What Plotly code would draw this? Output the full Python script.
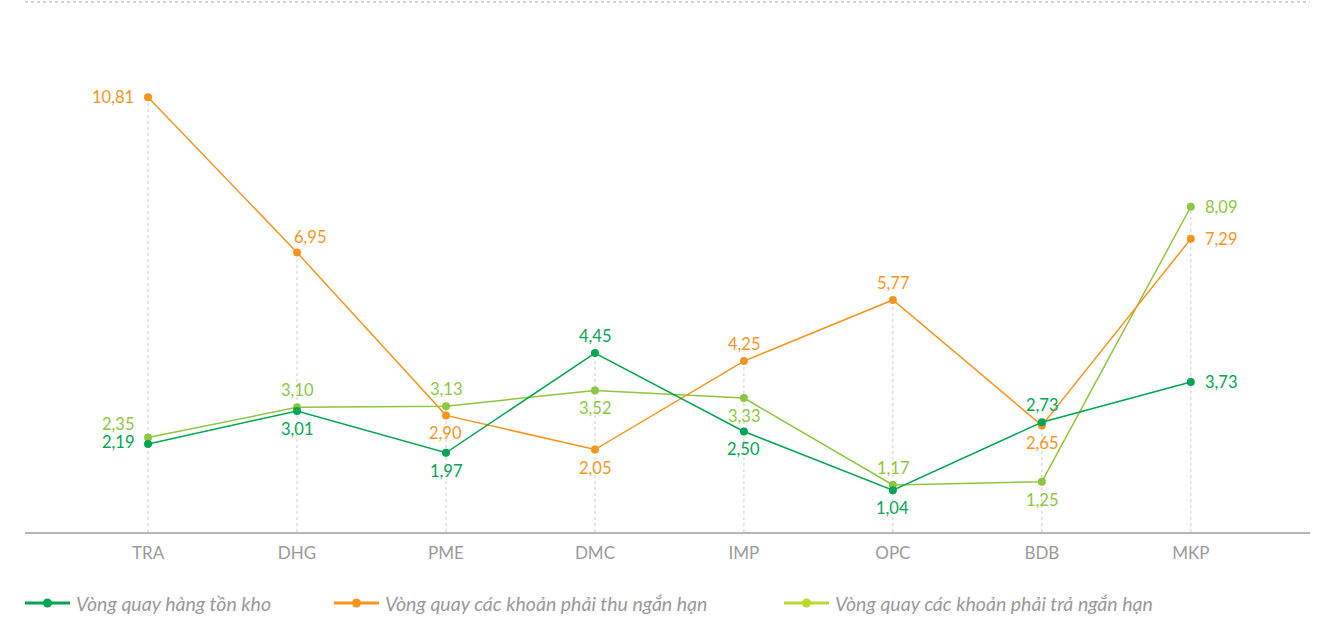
import plotly.graph_objects as go

categories = ["TRA", "DHG", "PME", "DMC", "IMP", "OPC", "BDB", "MKP"]
inventory_turnover = [2.19, 3.01, 1.97, 4.45, 2.50, 1.04, 2.73, 3.73]
receivable_turnover = [10.81, 6.95, 2.90, 2.05, 4.25, 5.77, 2.65, 7.29]
payable_turnover = [2.35, 3.10, 3.13, 3.52, 3.33, 1.17, 1.25, 8.09]

names = ["Vòng quay hàng tồn kho",
         "Vòng quay các khoản phải thu ngắn hạn",
         "Vòng quay các khoản phải trả ngắn hạn"]

GREEN = "#00A651"
ORANGE = "#F7941D"
LIME = "#8DC63F"
LIME_LEGEND = "#BED630"

# label placement codes per point
pos_inv = ["l2", "b", "b", "t", "b", "b", "t", "r"]
pos_rec = ["l", "tr", "b", "b", "t", "t", "b", "r"]
pos_pay = ["tl", "t", "t", "b", "b", "t", "b", "r"]

OFFSETS = {  # code: (xanchor, xshift, yshift)
    "t": ("center", 0, 17),
    "b": ("center", 0, -18),
    "l": ("right", -12, 0),
    "l2": ("right", -12, 2),
    "r": ("left", 12, 0),
    "tr": ("center", 13, 16),
    "tl": ("right", -12, 14),
}

fig = go.Figure()

# drop lines from highest point to baseline
xs, ys = [], []
for c, a, b, d in zip(categories, inventory_turnover, receivable_turnover, payable_turnover):
    xs += [c, c, None]
    ys += [0, max(a, b, d), None]
fig.add_trace(go.Scatter(x=xs, y=ys, mode="lines", showlegend=False, hoverinfo="skip",
                         line=dict(color="#cccccc", width=1, dash="dot")))

series = [(payable_turnover, LIME, pos_pay),
          (receivable_turnover, ORANGE, pos_rec),
          (inventory_turnover, GREEN, pos_inv)]

annotations = []
for vals, color, pos in series:
    fig.add_trace(go.Scatter(
        x=categories, y=vals, mode="lines+markers",
        line=dict(color=color, width=1.5),
        marker=dict(color=color, size=8),
        showlegend=False, cliponaxis=False))
    for c, v, p in zip(categories, vals, pos):
        xa, xsft, ysft = OFFSETS[p]
        annotations.append(dict(
            x=c, y=v, xref="x", yref="y", text=f"{v:.2f}".replace(".", ","),
            showarrow=False, xanchor=xa, yanchor="middle", xshift=xsft, yshift=ysft,
            font=dict(family="Lato", size=16.5, color=color)))

# manual legend
L, R, T, B = 25, 1310, 2, 532
def px(p):
    return (p - L) / (R - L)
def py(p):
    return (B - p) / (B - T)

legend_items = [(names[0], GREEN, 25), (names[1], ORANGE, 334), (names[2], LIME_LEGEND, 784)]
shapes = []
leg_y = 603
for n, color, x0 in legend_items:
    shapes.append(dict(type="line", xref="paper", yref="paper",
                       x0=px(x0), x1=px(x0 + 45), y0=py(leg_y), y1=py(leg_y),
                       line=dict(color=color, width=3)))
    shapes.append(dict(type="circle", xref="paper", yref="paper",
                       xsizemode="pixel", ysizemode="pixel",
                       xanchor=px(x0 + 22.5), yanchor=py(leg_y),
                       x0=-4.5, x1=4.5, y0=-4.5, y1=4.5,
                       fillcolor=color, line=dict(color=color, width=0)))
    annotations.append(dict(x=px(x0 + 49), y=py(leg_y), xref="paper", yref="paper",
                            text=n, showarrow=False, xanchor="left", yanchor="middle",
                            font=dict(family="Lato", size=19.5, color="#999999",
                                      style="italic")))

shapes.append(dict(type="line", xref="paper", yref="paper", x0=0, x1=1, y0=1, y1=1,
                   line=dict(color="#aaaaaa", width=1, dash="dot")))

fig.update_layout(
    width=1326, height=618,
    margin=dict(l=L, r=1326 - R, t=T, b=618 - B, autoexpand=False),
    paper_bgcolor="white", plot_bgcolor="white",
    showlegend=False,
    font=dict(family="Lato", color="#999999"),
    xaxis=dict(type="category", range=[-0.826, 7.80], showgrid=False,
               showline=True, linecolor="#b5b5b5", linewidth=2,
               tickfont=dict(family="Lato", size=17, color="#9a9a9a"),
               ticks="", ticklabelstandoff=5, automargin=False),
    yaxis=dict(range=[0, 13.18], showgrid=False, showticklabels=False,
               zeroline=False, showline=False, automargin=False),
    annotations=annotations,
    shapes=shapes,
)

fig.write_html("out.html", config={"displayModeBar": False},
               post_script="document.body.style.margin='0';")
